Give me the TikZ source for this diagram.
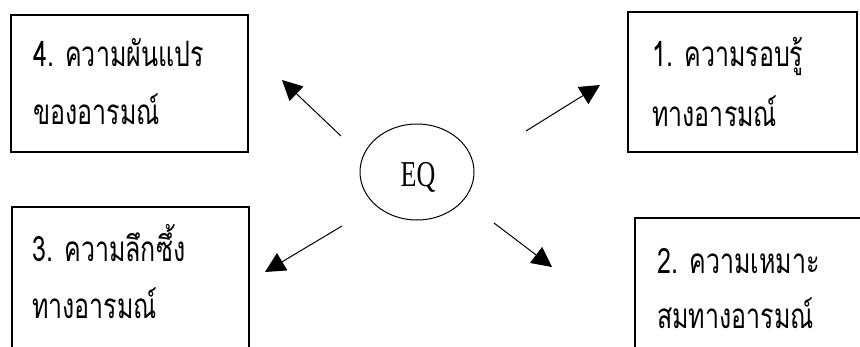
\documentclass[tikz,border=0pt]{standalone}
\usepackage{fontspec}
\setmainfont{Liberation Serif}
\newfontfamily\thaifont[Script=Thai]{Loma}
\usetikzlibrary{arrows.meta,shapes.geometric}
\newcommand{\tallbox}[1]{\scalebox{1}[1.4]{#1}}
\begin{document}
\begin{tikzpicture}[x=1pt,y=-1pt,
  box/.style={draw=black,line width=1.5pt},
  lbl/.style={anchor=base west,inner sep=0pt,font=\thaifont\fontsize{25}{30}\selectfont},
  arr/.style={line width=1pt,-{Triangle[length=20pt,width=20pt]}}]
\useasboundingbox (0,0) rectangle (860,346);
\begin{scope}
\clip (0,0) rectangle (860,346);
\draw[box] (11,15) rectangle (248,152);
\draw[box] (628,12) rectangle (857,152);
\draw[box] (12,207) rectangle (249,360);
\draw[box] (635,218) rectangle (880,360);
\end{scope}
\node[lbl] (t4a) at (33,66) {\tallbox{4. ความผันแปร}};
\node[lbl] (t4b) at (33,124) {\tallbox{ของอารมณ์}};
\node[lbl] (t1a) at (652,66) {\tallbox{1. ความรอบรู้}};
\node[lbl] (t1b) at (652,126) {\tallbox{ทางอารมณ์}};
\node[lbl] (t3a) at (32,261) {\tallbox{3. ความลึกซึ้ง}};
\node[lbl] (t3b) at (32,318) {\tallbox{ทางอารมณ์}};
\node[lbl] (t2a) at (657,273) {\tallbox{2. ความเหมาะ}};
\node[lbl] (t2b) at (657,328) {\tallbox{สมทางอารมณ์}};
\node[draw,ellipse,line width=1pt,minimum width=114pt,minimum height=96pt,inner sep=0pt,
  font=\fontsize{26}{30}\selectfont] (eq) at (417,172) {};
\node[inner sep=0pt,anchor=base,font=\fontsize{26}{30}\selectfont] (eqt) at (418,186) {\tallbox{EQ}};
\coordinate (s4) at (341,136); \coordinate (e4) at (282,80);
\coordinate (s1) at (526,131); \coordinate (e1) at (600,85);
\coordinate (s3) at (342,226); \coordinate (e3) at (265,272);
\coordinate (s2) at (494,223); \coordinate (e2) at (552,267);
\draw[arr] (s4) -- (e4);
\draw[arr] (s1) -- (e1);
\draw[arr] (s3) -- (e3);
\draw[arr] (s2) -- (e2);
\end{tikzpicture}
\end{document}
